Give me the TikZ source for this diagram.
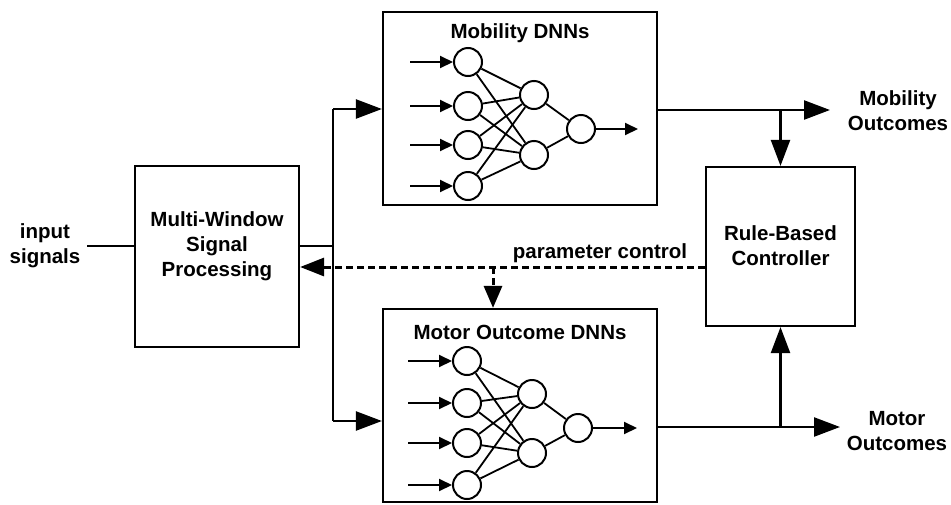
\documentclass[tikz,border=0pt]{standalone}
\usepackage{fontspec}
\setmainfont{Liberation Sans}
\usetikzlibrary{arrows.meta}
\begin{document}
\begin{tikzpicture}[x=1pt,y=-1pt,
  txt/.style={font=\bfseries\fontsize{20.5}{25}\selectfont, align=center, inner sep=0pt},
  blk/.style={draw, line width=2.2pt, inner sep=0pt},
  conn/.style={line width=2.4pt},
  bigarrow/.style={conn, -{Triangle[length=26pt,width=19pt]}},
  dsh/.style={line width=3pt, dash pattern=on 7pt off 4pt},
  neuron/.style={draw, circle, line width=2pt, minimum size=28pt, inner sep=0pt},
  syn/.style={line width=1.8pt},
  smallarrow/.style={line width=2pt, -{Triangle[length=13pt,width=12pt]}}
]
\useasboundingbox (0,0) rectangle (951,504);

% blocks
\node[blk, minimum width=164pt, minimum height=181pt] (mw) at (217,256.5) {};
\node[txt] (mwt) at (217,246) {Multi-Window\\Signal\\Processing};
\node[blk, minimum width=274pt, minimum height=193pt] (mob) at (520,108.5) {};
\node[txt] (mobt) at (520,33) {Mobility DNNs};
\node[blk, minimum width=274pt, minimum height=193pt] (mot) at (520,405.5) {};
\node[txt] (mott) at (520,332) {Motor Outcome DNNs};
\node[blk, minimum width=149pt, minimum height=159pt] (ctrl) at (780.5,246.5) {};
\node[txt] (ctrlt) at (780.5,246) {Rule-Based\\Controller};

% labels
\node[txt] (inl) at (45,246) {input\\signals};
\node[txt] (mobl) at (898,111) {Mobility\\Outcomes};
\node[txt] (motl) at (897,431) {Motor\\Outcomes};
\node[txt] (pcl) at (600,253) {parameter control};

% neural networks
\foreach \p/\ix/\hx/\ox/\sx/\ex/\ia/\ib/\ic/\id/\ha/\hb/\oy in
  {m/468/534/581/410/638/62/106/145/186/95/155/129,
   o/467/532/578/408/637/361/403/443/485/394/453/428}{
  \node[neuron] (\p i1) at (\ix,\ia) {};
  \node[neuron] (\p i2) at (\ix,\ib) {};
  \node[neuron] (\p i3) at (\ix,\ic) {};
  \node[neuron] (\p i4) at (\ix,\id) {};
  \node[neuron] (\p h1) at (\hx,\ha) {};
  \node[neuron] (\p h2) at (\hx,\hb) {};
  \node[neuron] (\p o) at (\ox,\oy) {};
  \foreach \k/\yy in {1/\ia,2/\ib,3/\ic,4/\id}{
    \coordinate (\p s\k) at (\sx,\yy);
    \draw[smallarrow] (\p s\k) -- (\p i\k);
    \draw[syn] (\p i\k) -- (\p h1);
    \draw[syn] (\p i\k) -- (\p h2);
  }
  \draw[syn] (\p h1) -- (\p o);
  \draw[syn] (\p h2) -- (\p o);
  \coordinate (\p end) at (\ex,\oy);
  \draw[smallarrow] (\p o) -- (\p end);
}

% input connections
\coordinate (inend) at (87,246);
\draw[conn] (inend) -- (mw.west |- inend);
\coordinate (split) at (333,246);
\coordinate (ta) at (333,109);
\coordinate (ba) at (333,421);
\draw[conn] (mw.east |- split) -- (split);
\draw[conn] (ta) -- (ba);
\draw[bigarrow] (ta) -- (mob.west |- ta);
\draw[bigarrow] (ba) -- (mot.west |- ba);

% outputs
\coordinate (mobout) at (830,110);
\coordinate (motout) at (840,427);
\draw[bigarrow] (mob.east |- mobout) -- (mobout);
\draw[bigarrow] (mot.east |- motout) -- (motout);
\draw[bigarrow] (ctrl.north |- mobout) -- (ctrl.north);
\draw[bigarrow] (ctrl.south |- motout) -- (ctrl.south);

% parameter control (dashed)
\coordinate (dj) at (493,267);
\draw[dsh, -{Triangle[length=24pt,width=18pt]}] (ctrl.west |- dj) -- (mw.east |- dj);
\draw[dsh, -{Triangle[length=22pt,width=18pt]}] (dj) -- (dj |- mot.north);
\end{tikzpicture}
\end{document}
